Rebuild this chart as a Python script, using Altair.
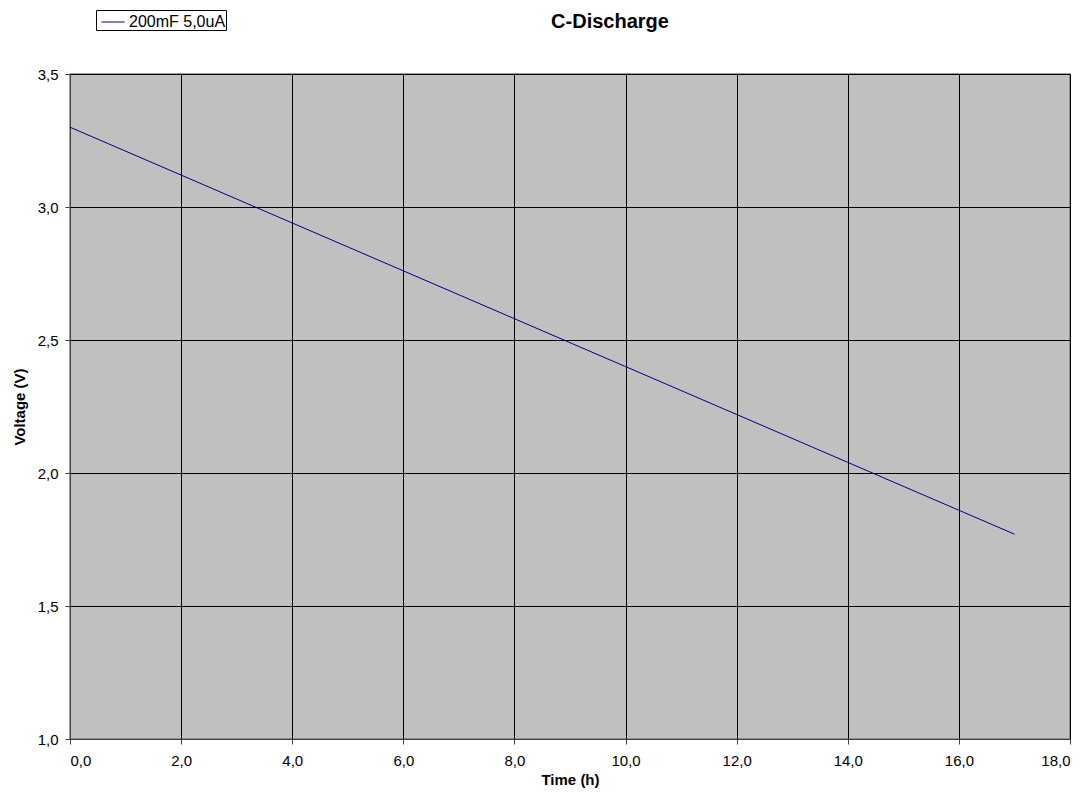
import altair as alt
import pandas as pd

time_h = [0, 2, 4, 6, 8, 10, 12, 14, 16, 17]
voltage = [3.30, 3.12, 2.94, 2.76, 2.58, 2.40, 2.22, 2.04, 1.86, 1.77]
series = "200mF 5,0uA"

df = pd.DataFrame({"Time": time_h, "Voltage": voltage, "Series": [series] * len(time_h)})

font = "Liberation Sans"
comma = "replace(format(datum.value, '.1f'), '.', ',')"

ax_common = dict(labelFont=font, labelFontSize=15, labelColor="#000000",
                 titleFont=font, titleFontSize=15, titleFontWeight="bold", titleColor="#000000",
                 grid=True, gridColor="#000000", gridOpacity=1, gridWidth=1,
                 domainColor="#404040", tickColor="#404040", tickSize=5, labelExpr=comma)

chart = alt.Chart(df).mark_line(color="#000080", strokeWidth=1).encode(
    x=alt.X("Time:Q", scale=alt.Scale(domain=[0, 18], nice=False),
            axis=alt.Axis(title="Time (h)", values=[0, 2, 4, 6, 8, 10, 12, 14, 16, 18],
                          labelPadding=9, titlePadding=4, **ax_common)),
    y=alt.Y("Voltage:Q", scale=alt.Scale(domain=[1.0, 3.5], nice=False, zero=False),
            axis=alt.Axis(title="Voltage (V)", values=[1.0, 1.5, 2.0, 2.5, 3.0, 3.5],
                          labelPadding=7, titlePadding=10, **ax_common)),
    stroke=alt.Stroke("Series:N", scale=alt.Scale(range=["#000080"]),
                      legend=alt.Legend(title=None, orient="none", legendX=26, legendY=-64,
                                        strokeColor="#000000", padding=0, symbolType="stroke",
                                        symbolSize=529, symbolStrokeWidth=1, symbolOffset=5,
                                        labelOffset=4, labelExpr="datum.label + '  '",
                                        labelFont=font, labelFontSize=16, labelColor="#000000",
                                        fillColor="#ffffff")),
).properties(
    width=1000, height=665,
    background="#ffffff",
    title=alt.TitleParams("C-Discharge", font=font, fontSize=20, fontWeight="bold",
                          color="#000000", anchor="middle", dx=40, offset=-22),
    padding={"left": 62, "top": 66, "right": 13, "bottom": 51},
    autosize=alt.AutoSizeParams(type="none"),
).configure_view(
    fill="#C0C0C0", stroke="#808080", strokeWidth=1.5
)

chart.save("out.html", embed_options={"renderer": "svg", "actions": False})
